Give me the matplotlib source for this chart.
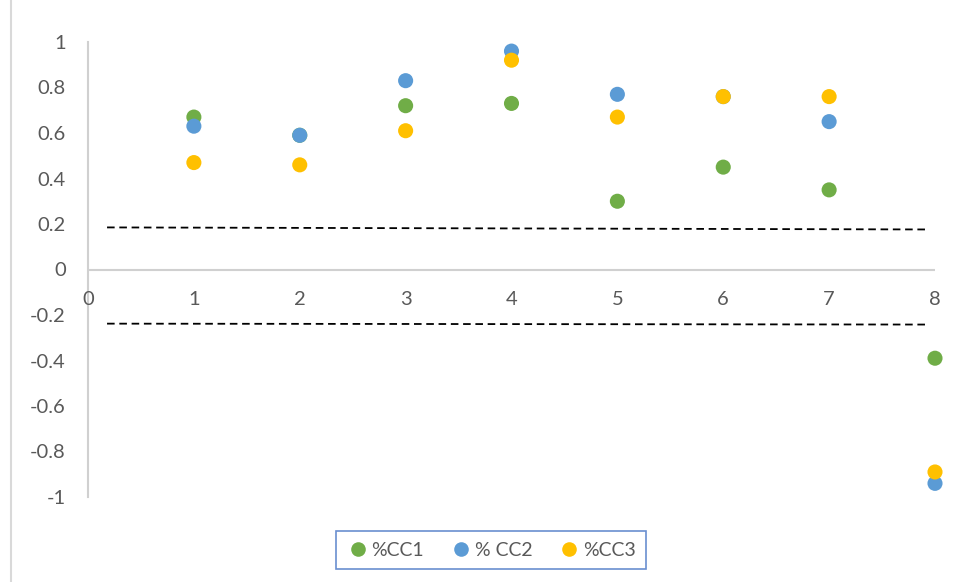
import matplotlib
matplotlib.use("Agg")
import matplotlib.pyplot as plt
from matplotlib.lines import Line2D

# Data
x_vals = [1, 2, 3, 4, 5, 6, 7, 8]
cc1 = [0.67, 0.59, 0.72, 0.73, 0.30, 0.45, 0.35, -0.39]
cc2 = [0.63, 0.59, 0.83, 0.96, 0.77, 0.76, 0.65, -0.94]
cc3 = [0.47, 0.46, 0.61, 0.92, 0.67, 0.76, 0.76, -0.89]
series_names = ["%CC1", "% CC2", "%CC3"]
series_colors = ["#70AD47", "#5B9BD5", "#FFC000"]

# Significance bands (dashed)
band_x = [0.18, 7.91]
upper_band = [0.185, 0.176]
lower_band = [-0.238, -0.242]

x_ticks = [0, 1, 2, 3, 4, 5, 6, 7, 8]
y_ticks = [-1, -0.8, -0.6, -0.4, -0.2, 0, 0.2, 0.4, 0.6, 0.8, 1]

plt.rcParams['font.family'] = ['Lato', 'DejaVu Sans']

fig = plt.figure(figsize=(9.56, 5.82), dpi=100)
ax = fig.add_axes([88 / 956, 1 - 497 / 582, (935 - 88) / 956, (497 - 42) / 582])

for vals, name, col in zip([cc1, cc2, cc3], series_names, series_colors):
    ax.scatter(x_vals, vals, s=118, color=col, edgecolors='none', label=name,
               zorder=3, clip_on=False)

dash = (0, (4.2, 2.6))
ax.plot(band_x, upper_band, color='black', lw=1.3, linestyle=dash, zorder=2)
ax.plot(band_x, lower_band, color='black', lw=1.3, linestyle=dash, zorder=2)

ax.set_xlim(0, 8)
ax.set_ylim(-1, 1)

# Axis lines crossing at zero
for s in ['top', 'right', 'bottom']:
    ax.spines[s].set_visible(False)
ax.spines['left'].set_color('#D0D0D0')
ax.spines['left'].set_linewidth(1.5)
ax.axhline(0, color='#D0D0D0', lw=1.5, zorder=1)

ax.set_yticks(y_ticks)
ax.set_yticklabels([f"{v:g}" for v in y_ticks])
ax.tick_params(axis='y', length=0, pad=16, labelsize=14.5, labelcolor='#595959')
ax.set_xticks([])

for xv in x_ticks:
    ax.text(xv, -0.095, str(xv), ha='center', va='top', fontsize=14.5,
            color='#595959')

# Chart-area border fragment on the left
fig.add_artist(Line2D([11 / 956, 11 / 956], [0, 1], color='#D9D9D9', lw=1.5))

handles = [Line2D([], [], marker='o', linestyle='none', markersize=10.5,
                  markerfacecolor=c, markeredgecolor='none') for c in series_colors]
leg = fig.legend(handles, series_names, loc='center',
                 bbox_to_anchor=(491 / 956, 1 - 550 / 582), ncol=3,
                 fontsize=14, frameon=True, fancybox=False,
                 handletextpad=0.1, columnspacing=1.3, borderpad=0.55,
                 handlelength=1.2, labelcolor='#595959')
leg.get_frame().set_edgecolor('#4472C4')
leg.get_frame().set_linewidth(1.2)

fig.savefig("out.png", dpi=100)
